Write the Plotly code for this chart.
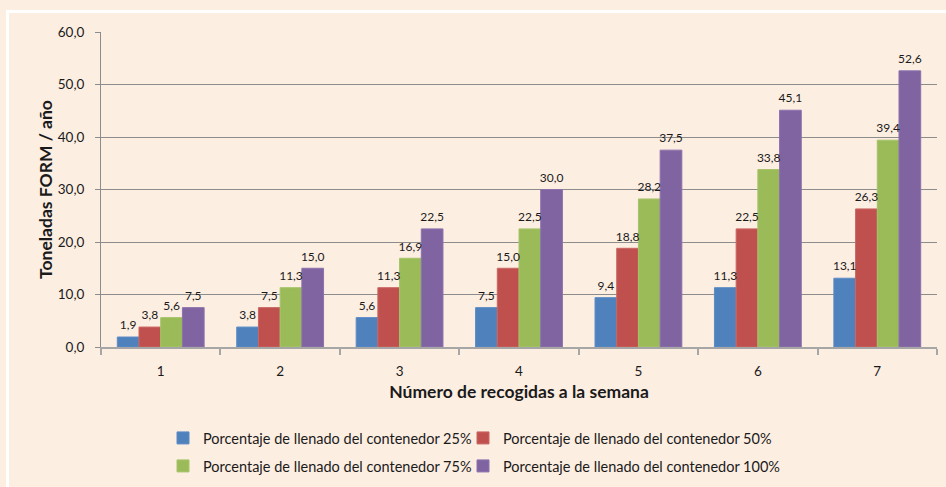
import plotly.graph_objects as go

categories = ["1", "2", "3", "4", "5", "6", "7"]
series_names = [
    "Porcentaje de llenado del contenedor 25%",
    "Porcentaje de llenado del contenedor 50%",
    "Porcentaje de llenado del contenedor 75%",
    "Porcentaje de llenado del contenedor 100%",
]
values_25 = [1.9, 3.8, 5.6, 7.5, 9.4, 11.3, 13.1]
values_50 = [3.8, 7.5, 11.3, 15.0, 18.8, 22.5, 26.3]
values_75 = [5.6, 11.3, 16.9, 22.5, 28.2, 33.8, 39.4]
values_100 = [7.5, 15.0, 22.5, 30.0, 37.5, 45.1, 52.6]
y_ticks = [0, 10, 20, 30, 40, 50, 60]

colors = ["#4F81BD", "#C0504D", "#9BBB59", "#8064A2"]
line_colors = ["#5B8CC6", "#C96663", "#A5C46A", "#8C72AC"]
FONT = "Lato"
BG = "#FDEEE2"
TXT = "#1a1a1a"

L, R, T, B = 101, 9, 32, 140
W, H = 946, 487
pw, ph = W - L - R, H - T - B
GAP = 0.273

def px_x(p):
    return (p - L) / pw

def px_y(p):
    return (H - B - p) / ph

fig = go.Figure()
all_vals = [values_25, values_50, values_75, values_100]
legend_ids = ["legend", "legend2", "legend3", "legend4"]
for name, vals, c, lc, lg in zip(series_names, all_vals, colors, line_colors, legend_ids):
    fig.add_trace(go.Bar(
        x=categories, y=vals, name=name,
        marker=dict(color=c, line=dict(color=lc, width=1)),
        legend=lg,
    ))
# data labels, grouped the same way as the bars
for name, vals in zip(series_names, all_vals):
    fig.add_trace(go.Scatter(
        x=categories, y=vals, mode="markers+text",
        text=vals, texttemplate="%{y:.1f}", textposition="top center",
        textfont=dict(family=FONT, size=12, color=TXT),
        marker=dict(size=6, opacity=0),
        showlegend=False, hoverinfo="skip", cliponaxis=False,
    ))

legend_common = dict(orientation="h", xanchor="left", yanchor="middle",
                     bgcolor="rgba(0,0,0,0)",
                     font=dict(family=FONT, size=14.5, color=TXT))
col_x = [163, 463]
row_y = [438, 466]

fig.update_layout(
    width=W, height=H,
    margin=dict(l=L, r=R, t=T, b=B, autoexpand=False),
    paper_bgcolor=BG, plot_bgcolor=BG,
    separators=",.",
    barmode="group", bargap=GAP, bargroupgap=0,
    scattermode="group", scattergap=GAP,
    font=dict(family=FONT, size=13.5, color=TXT),
    showlegend=True,
    legend=dict(x=px_x(col_x[0]), y=px_y(row_y[0]), **legend_common),
    legend2=dict(x=px_x(col_x[1]), y=px_y(row_y[0]), **legend_common),
    legend3=dict(x=px_x(col_x[0]), y=px_y(row_y[1]), **legend_common),
    legend4=dict(x=px_x(col_x[1]), y=px_y(row_y[1]), **legend_common),
    xaxis=dict(
        type="category", showgrid=False, showline=True, linecolor="#A6A6A6", linewidth=1.5,
        ticks="outside", tickson="boundaries", ticklen=6, tickcolor="#A6A6A6", tickwidth=1.5,
        tickfont=dict(family=FONT, size=13.5, color=TXT), ticklabelstandoff=11,
        automargin=False,
        title=dict(text="<b>Número de recogidas a la semana</b>", font=dict(family=FONT, size=17.5, color=TXT), standoff=8),
    ),
    yaxis=dict(
        range=[0, 60], tickvals=y_ticks, tickformat=".1f",
        showgrid=True, gridcolor="#8C8C8C", gridwidth=1,
        showline=True, linecolor="#8C8C8C", linewidth=1,
        ticks="outside", ticklen=5, tickcolor="#8C8C8C",
        tickfont=dict(family=FONT, size=13.5, color=TXT), ticklabelstandoff=8,
        zeroline=False, automargin=False,
        title=dict(text="<b>Toneladas FORM / año</b>", font=dict(family=FONT, size=17.5, color=TXT), standoff=0),
    ),
    shapes=[dict(type="rect", xref="paper", yref="paper",
                 x0=px_x(7.5), x1=px_x(980), y0=px_y(520), y1=px_y(11.5),
                 line=dict(color="white", width=3), fillcolor="rgba(0,0,0,0)", layer="below")],
)

fig.write_html("out.html", config={"displayModeBar": False},
               post_script="document.body.style.margin='0';document.body.style.padding='0';document.body.style.background='%s';" % BG)
